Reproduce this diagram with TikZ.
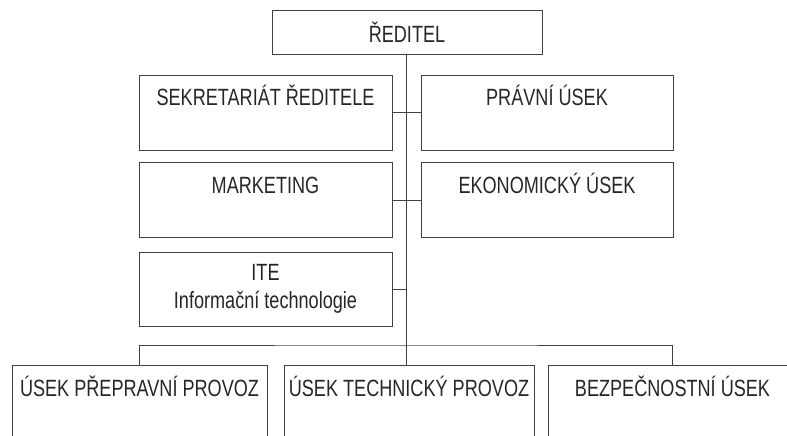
\documentclass[tikz,border=0pt]{standalone}
\usepackage{fontspec}
\setmainfont[FakeStretch=0.77]{Liberation Sans}
\usetikzlibrary{positioning}

\begin{document}
\begin{tikzpicture}[
    x=1pt, y=-1pt,
    line width=0.9pt, draw=black!75,
    unit/.style={draw, rectangle, inner sep=0pt, minimum width=253pt, minimum height=75pt, align=center,
      font=\fontsize{23.5}{28}\selectfont, text=black!85},
    topunit/.style={unit, text height=31pt, text depth=44pt},
    lowunit/.style={unit, minimum width=255pt, text height=31pt, text depth=54pt},
  ]
    \useasboundingbox (0,0) rectangle (787,436);
    \clip (0,0) rectangle (787,436);

    \node[unit, minimum width=270pt, minimum height=44pt] (reditel) at (407,32) {ŘEDITEL};

    \node[topunit] (sekretariat) at (265.5,112.5) {SEKRETARIÁT ŘEDITELE};
    \node[topunit, minimum width=252pt] (pravni) at (547,112.5) {PRÁVNÍ ÚSEK};
    \node[topunit] (marketing) at (265.5,200) {MARKETING};
    \node[topunit, minimum width=252pt] (ekonomicky) at (547,200) {EKONOMICKÝ ÚSEK};
    \node[unit, minimum height=74pt, font=\fontsize{23.5}{28}\selectfont] (ite) at (265.5,289) {ITE\\Informační technologie};

    \node[lowunit] (prepravni) at (139.5,407.5) {ÚSEK PŘEPRAVNÍ PROVOZ};
    \node[lowunit, minimum width=250pt] (technicky) at (409,407.5) {ÚSEK TECHNICKÝ PROVOZ};
    \node[lowunit, minimum width=249pt] (bezpecnostni) at (672.5,407.5) {BEZPEČNOSTNÍ ÚSEK};

    \coordinate (bus) at (406,345);

    \draw (reditel.south -| bus) -- (technicky.north -| bus);
    \draw (sekretariat.east) -- (pravni.west);
    \draw (marketing.east) -- (ekonomicky.west);
    \draw (ite.east) -- (ite.east -| bus);
    \draw (prepravni.north) |- (bus) -| (bezpecnostni.north);
  \end{tikzpicture}
\end{document}
